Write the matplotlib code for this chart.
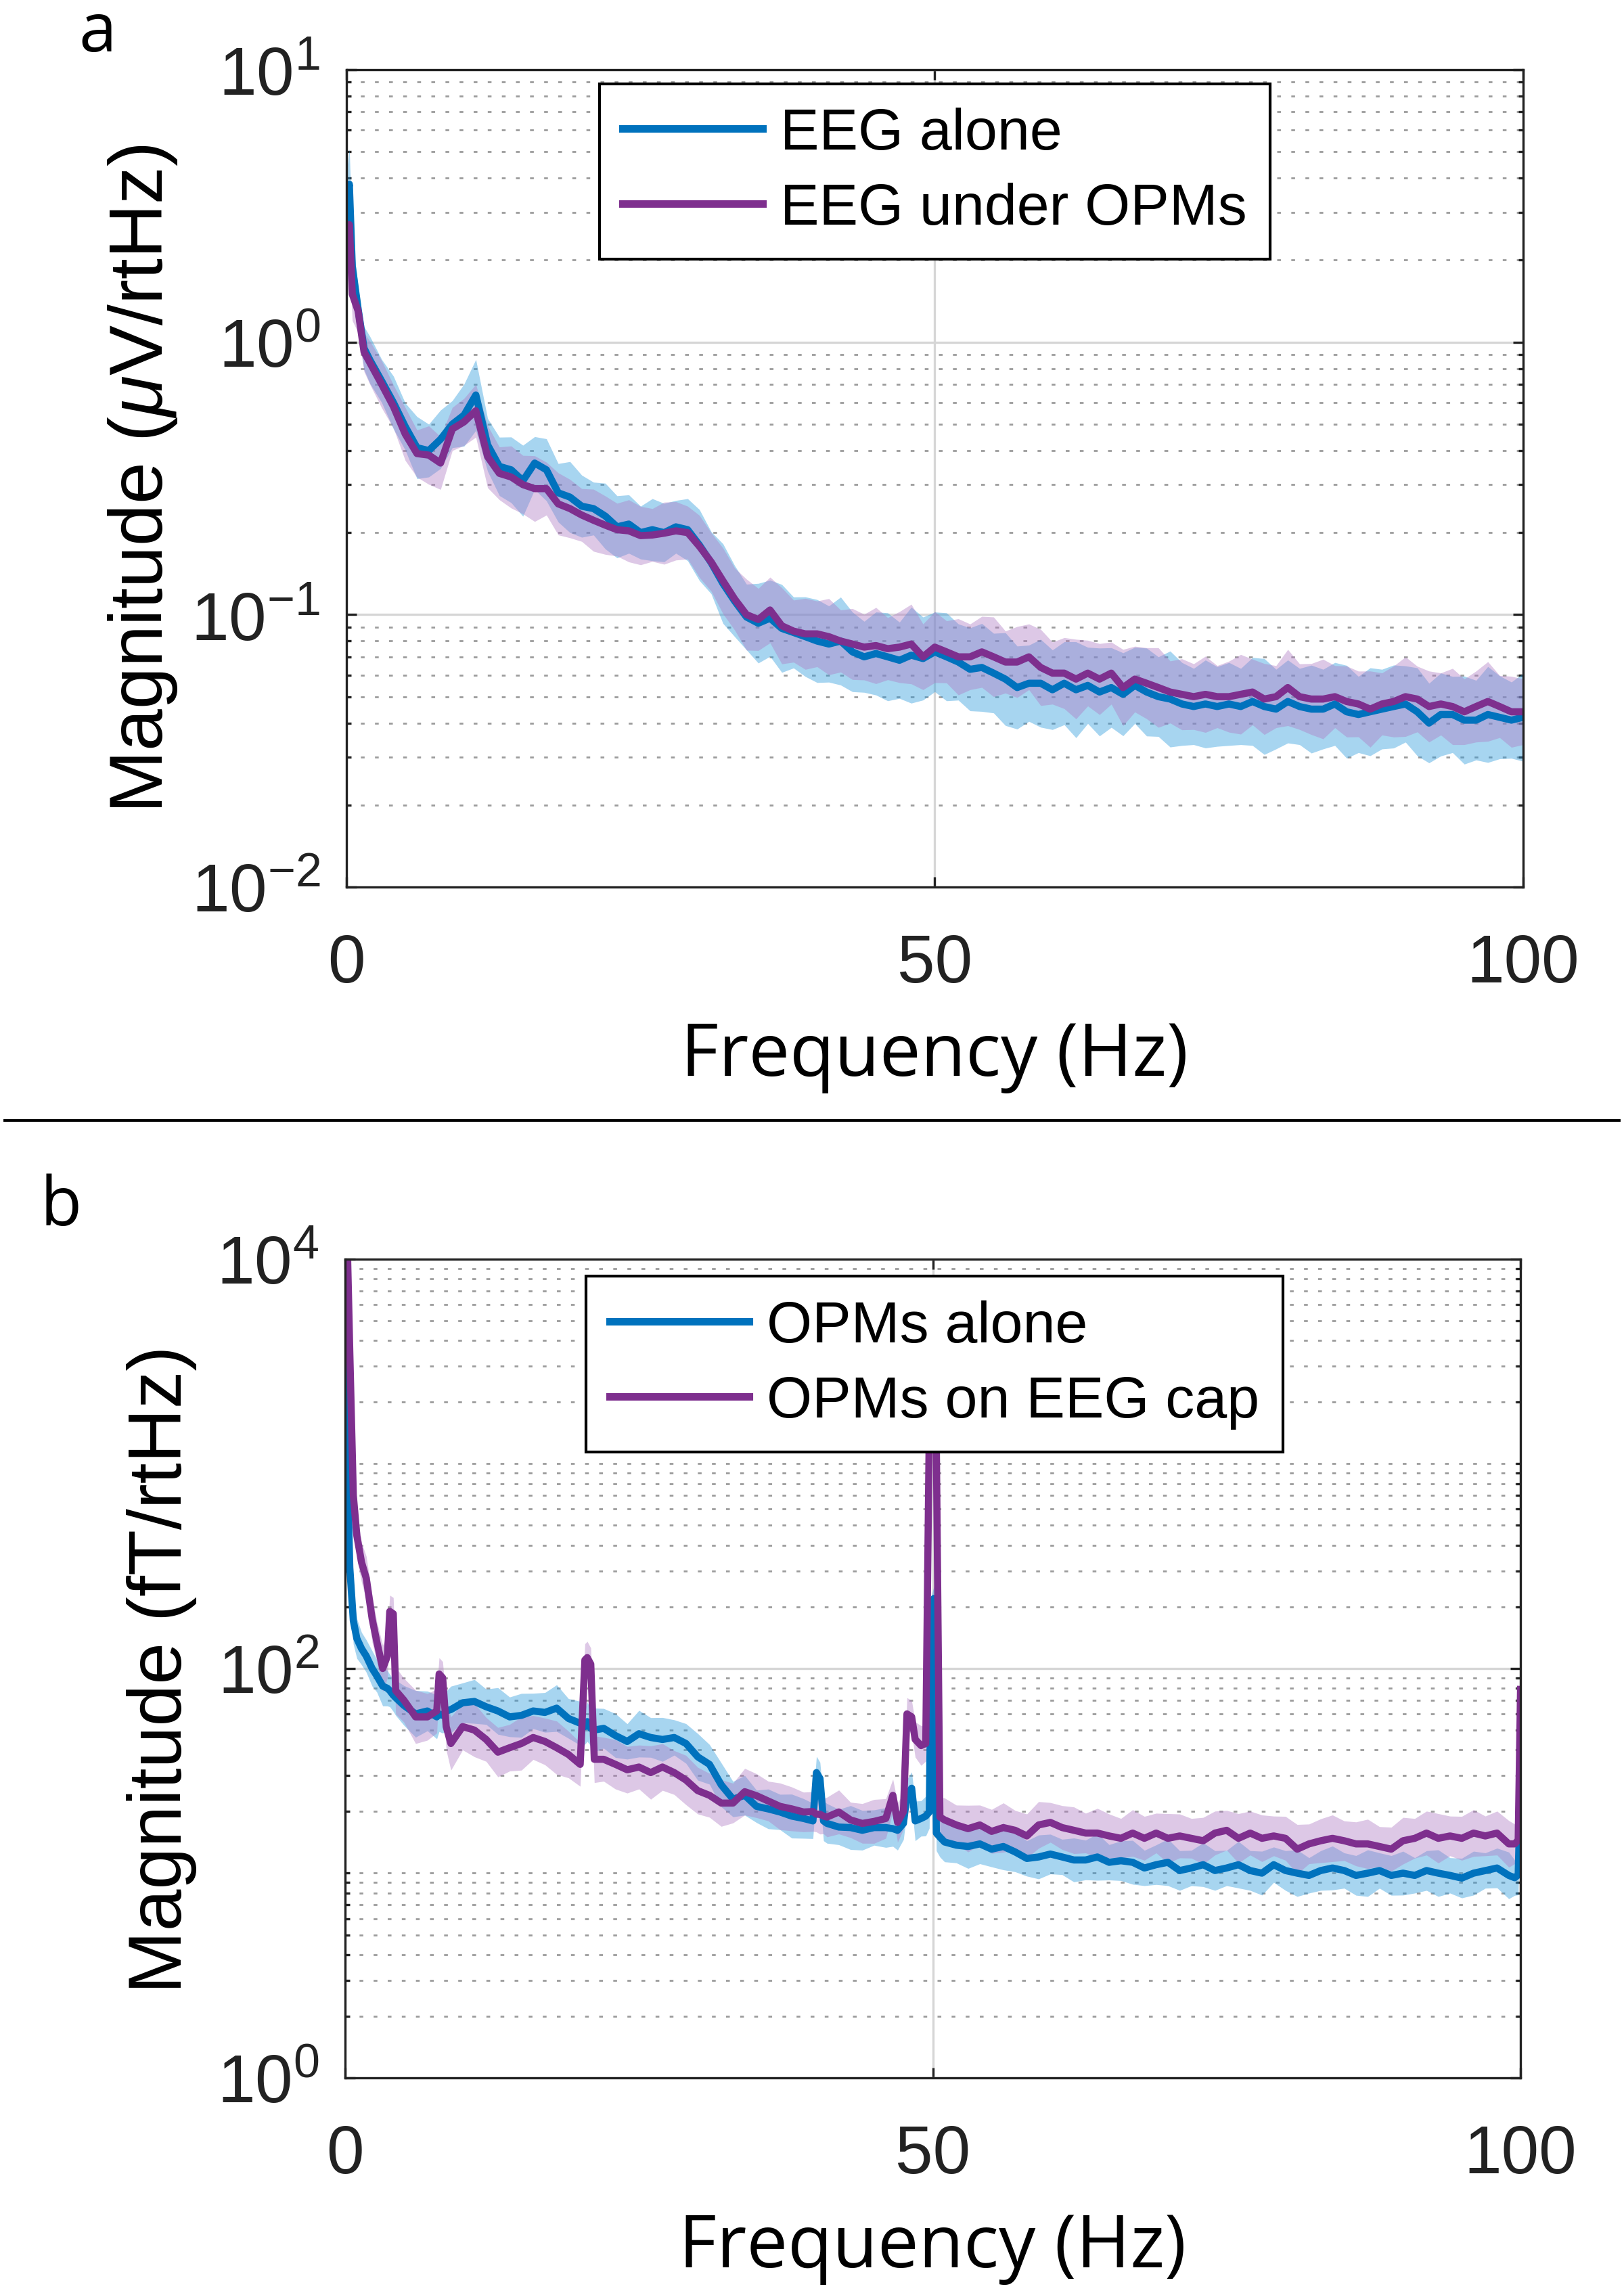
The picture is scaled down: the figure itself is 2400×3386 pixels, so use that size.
import matplotlib
matplotlib.use('Agg')
import numpy as np
import matplotlib.pyplot as plt
from matplotlib.ticker import FixedLocator, FuncFormatter, NullLocator, NullFormatter
from matplotlib.lines import Line2D

plt.rcParams['font.family'] = ['Liberation Sans', 'DejaVu Sans']
plt.rcParams['mathtext.fontset'] = 'custom'
plt.rcParams['mathtext.rm'] = 'Liberation Sans'
plt.rcParams['mathtext.it'] = 'Liberation Sans:italic'
plt.rcParams['mathtext.default'] = 'regular'

# ---------------- panel a : EEG spectra (uV/rtHz) ----------------
freq_a = [0, 0.25, 0.5, 1, 1.5, 2] + list(range(3, 101))

eeg_alone = [3.2, 3.8, 1.9, 1.32, 0.95, 0.86,
             0.72, 0.60, 0.49, 0.41, 0.40, 0.44, 0.50, 0.54, 0.64, 0.42,
             0.35, 0.34, 0.31, 0.36, 0.34, 0.28, 0.27, 0.25, 0.245, 0.23,
             0.21, 0.215, 0.20, 0.205, 0.20, 0.21, 0.205, 0.18, 0.155, 0.13,
             0.112, 0.098, 0.093, 0.097, 0.089, 0.086, 0.083, 0.080, 0.078, 0.080,
             0.073, 0.070, 0.072, 0.070, 0.068, 0.071, 0.069, 0.073, 0.070, 0.067,
             0.063, 0.064, 0.061, 0.058, 0.054, 0.056, 0.056, 0.053, 0.056, 0.053,
             0.055, 0.052, 0.054, 0.051, 0.055, 0.052, 0.050, 0.049, 0.047, 0.046,
             0.047, 0.046, 0.047, 0.046, 0.048, 0.046, 0.045, 0.048, 0.046, 0.045,
             0.045, 0.047, 0.044, 0.043, 0.044, 0.045, 0.046, 0.047, 0.044, 0.040,
             0.043, 0.043, 0.041, 0.041, 0.043, 0.042, 0.041, 0.042]

eeg_under = [2.4, 2.7, 1.5, 1.3, 0.92, 0.84,
             0.70, 0.58, 0.46, 0.39, 0.385, 0.36, 0.48, 0.51, 0.56, 0.38,
             0.33, 0.32, 0.30, 0.29, 0.29, 0.255, 0.245, 0.232, 0.222, 0.213,
             0.205, 0.203, 0.195, 0.196, 0.199, 0.203, 0.20, 0.178, 0.156, 0.133,
             0.114, 0.100, 0.096, 0.104, 0.091, 0.087, 0.085, 0.085, 0.083, 0.080,
             0.078, 0.076, 0.077, 0.075, 0.076, 0.078, 0.070, 0.076, 0.073, 0.070,
             0.070, 0.073, 0.070, 0.067, 0.067, 0.070, 0.064, 0.061, 0.061, 0.058,
             0.061, 0.058, 0.061, 0.054, 0.058, 0.056, 0.054, 0.052, 0.051, 0.050,
             0.051, 0.050, 0.050, 0.051, 0.052, 0.049, 0.050, 0.054, 0.050, 0.049,
             0.049, 0.050, 0.048, 0.047, 0.045, 0.047, 0.048, 0.050, 0.049, 0.046,
             0.047, 0.046, 0.044, 0.046, 0.048, 0.046, 0.044, 0.044]

# spread of the shaded band (multiplicative, mean*f .. mean/f)
eeg_alone_spread = [1.3, 1.35, 1.3, 1.2, 1.2, 1.22,
                    1.2, 1.25, 1.22, 1.3, 1.25, 1.28, 1.22, 1.3, 1.35, 1.25,
                    1.28, 1.32, 1.35, 1.25, 1.3, 1.28, 1.35, 1.3, 1.25, 1.32,
                    1.3, 1.28, 1.25, 1.3, 1.28, 1.25, 1.3, 1.35, 1.3, 1.4,
                    1.35, 1.32, 1.4, 1.38, 1.45, 1.35, 1.4, 1.42, 1.38, 1.45,
                    1.4, 1.35, 1.42, 1.45, 1.38, 1.5, 1.42, 1.4, 1.45, 1.38,
                    1.42, 1.45, 1.4, 1.48, 1.42, 1.38, 1.45, 1.4, 1.42, 1.5,
                    1.38, 1.45, 1.4, 1.42, 1.38, 1.45, 1.4, 1.5, 1.42, 1.38,
                    1.45, 1.4, 1.42, 1.38, 1.45, 1.5, 1.4, 1.42, 1.38, 1.45,
                    1.4, 1.42, 1.48, 1.38, 1.45, 1.4, 1.42, 1.38, 1.45, 1.4,
                    1.42, 1.38, 1.45, 1.4, 1.5, 1.42, 1.38, 1.45]

eeg_under_spread = [1.25, 1.3, 1.25, 1.2, 1.18, 1.2,
                    1.22, 1.2, 1.25, 1.22, 1.28, 1.25, 1.2, 1.22, 1.25, 1.3,
                    1.25, 1.3, 1.28, 1.32, 1.25, 1.3, 1.28, 1.25, 1.3, 1.28,
                    1.25, 1.3, 1.28, 1.25, 1.3, 1.28, 1.25, 1.3, 1.28, 1.32,
                    1.3, 1.35, 1.3, 1.32, 1.38, 1.3, 1.35, 1.32, 1.38, 1.3,
                    1.35, 1.32, 1.38, 1.3, 1.35, 1.4, 1.32, 1.35, 1.3, 1.38,
                    1.32, 1.35, 1.4, 1.3, 1.35, 1.32, 1.38, 1.3, 1.35, 1.4,
                    1.32, 1.35, 1.3, 1.38, 1.32, 1.35, 1.4, 1.3, 1.35, 1.32,
                    1.38, 1.3, 1.35, 1.4, 1.32, 1.35, 1.3, 1.38, 1.32, 1.35,
                    1.4, 1.3, 1.35, 1.32, 1.38, 1.3, 1.35, 1.4, 1.32, 1.35,
                    1.3, 1.38, 1.32, 1.35, 1.4, 1.3, 1.35, 1.32]

# ---------------- panel b : OPM spectra (fT/rtHz) ----------------
freq_b = ([0, 0.2, 0.4, 0.7, 1, 1.4, 1.8, 2.3, 2.7, 3.2, 3.6, 3.8, 4.1, 4.3, 5, 6, 7, 7.8, 8.0, 8.3, 8.6, 9]
          + list(range(10, 21)) + [20.4, 20.6, 20.9, 21.2] + list(range(22, 40))
          + [39.8, 40.1, 40.4, 40.7] + list(range(41, 47))
          + [46.6, 47, 47.5, 47.8, 48.2, 48.5, 49, 49.4, 49.7, 49.9, 50.1, 50.3, 50.6]
          + list(range(51, 100)) + [99.5, 99.8, 100])

opm_alone = ([4500, 900, 311, 171, 140, 125, 115, 100, 92, 82, 80, 78, 74, 72, 66, 60, 62, 58, 60, 59, 62, 63]
             + [68, 69, 65, 62, 58, 59, 62, 61, 64, 57, 54]
             + [52, 55, 51, 50]
             + [51, 47, 44, 48, 46, 45, 46, 43, 37, 34, 27, 23, 24, 21.2, 20.6, 19.9, 19.0, 18.5]
             + [18.0, 31, 29, 18]
             + [17.5, 16.8, 16.7, 16.2, 16.7, 16.7]
             + [16.5, 16.2, 17.5, 24, 26, 18, 18.5, 19, 19.9, 200, 220, 15.7, 15.0]
             + [14.2, 13.7, 13.5, 13.9, 13.1, 13.5, 12.7, 11.8, 12.0, 12.4,
                12.0, 11.6, 11.6, 12.0, 11.3, 11.5, 11.3, 10.6, 11.0, 11.3,
                10.3, 10.6, 11.0, 10.3, 10.6, 11.0, 10.3, 10.0, 11.0, 10.3,
                10.0, 9.75, 10.3, 10.6, 10.3, 9.75, 10.0, 10.3, 9.75, 10.0,
                9.75, 10.3, 10.0, 9.75, 9.46, 10.0, 10.3, 10.6, 9.75]
             + [9.5, 9.8, 28])

opm_on_cap = ([12000, 11000, 3500, 700, 445, 330, 276, 175, 135, 100, 115, 190, 185, 78, 70, 58, 58, 62, 94, 90, 52, 43]
              + [52, 50, 45, 39, 41, 43, 46, 44, 41, 38, 34]
              + [110, 113, 105, 36]
              + [36, 34, 32, 33, 31, 33, 31, 28.5, 25.3, 24, 22, 22, 25, 23.9, 22.5, 21.2, 20.6, 19.9]
              + [20, 19.4, 19.4, 19]
              + [18.8, 19.9, 18.2, 17.5, 17.9, 18.5]
              + [24, 17.7, 20, 60, 58, 45, 42, 43, 1500, 2500, 2500, 1200, 18.8]
              + [18.2, 17.2, 16.5, 17.2, 16.0, 16.7, 16.2, 15.2, 17.2, 17.7,
                 16.7, 16.2, 15.7, 15.7, 15.2, 14.8, 15.7, 14.8, 15.7, 14.8,
                 15.2, 14.8, 14.4, 15.7, 16.2, 14.8, 15.7, 14.8, 15.2, 14.8,
                 13.1, 13.9, 14.4, 14.8, 14.4, 13.9, 13.9, 13.5, 13.1, 14.4,
                 14.8, 15.7, 14.8, 15.2, 14.8, 15.7, 15.2, 15.7, 13.9]
              + [13.9, 14.5, 79])

opm_alone_spread = ([1.3, 1.4, 1.35, 1.3, 1.25, 1.2, 1.2, 1.22, 1.2, 1.25, 1.22, 1.2, 1.2, 1.22, 1.25, 1.3, 1.25, 1.28, 1.22, 1.22, 1.25, 1.3]
                    + [1.25, 1.28, 1.22, 1.3, 1.25, 1.28, 1.22, 1.25, 1.3, 1.25, 1.28]
                    + [1.22, 1.25, 1.22, 1.28]
                    + [1.25, 1.28, 1.22, 1.3, 1.25, 1.28, 1.22, 1.25, 1.3, 1.25, 1.28, 1.22, 1.25, 1.2, 1.25, 1.22, 1.28, 1.25]
                    + [1.22, 1.2, 1.2, 1.25]
                    + [1.25, 1.22, 1.28, 1.25, 1.22, 1.25]
                    + [1.22, 1.25, 1.2, 1.2, 1.2, 1.25, 1.22, 1.25, 1.2, 1.15, 1.15, 1.22, 1.25]
                    + [1.25, 1.22, 1.28, 1.25, 1.22, 1.3, 1.25, 1.22, 1.28, 1.25,
                       1.22, 1.28, 1.25, 1.3, 1.22, 1.25, 1.28, 1.22, 1.25, 1.3,
                       1.25, 1.22, 1.28, 1.25, 1.22, 1.3, 1.25, 1.28, 1.22, 1.25,
                       1.3, 1.22, 1.25, 1.28, 1.22, 1.25, 1.3, 1.22, 1.25, 1.28,
                       1.22, 1.25, 1.3, 1.22, 1.25, 1.28, 1.22, 1.25, 1.3]
                    + [1.22, 1.25, 1.2])

opm_on_cap_spread = ([1.2, 1.2, 1.25, 1.3, 1.3, 1.25, 1.28, 1.3, 1.25, 1.3, 1.28, 1.2, 1.2, 1.3, 1.28, 1.35, 1.3, 1.28, 1.2, 1.2, 1.3, 1.35]
                     + [1.3, 1.35, 1.28, 1.32, 1.3, 1.35, 1.28, 1.3, 1.35, 1.3, 1.28]
                     + [1.2, 1.2, 1.2, 1.3]
                     + [1.28, 1.32, 1.3, 1.28, 1.35, 1.3, 1.28, 1.32, 1.3, 1.28, 1.3, 1.25, 1.3, 1.28, 1.25, 1.3, 1.28, 1.25]
                     + [1.25, 1.22, 1.25, 1.22]
                     + [1.25, 1.28, 1.22, 1.25, 1.28, 1.25]
                     + [1.2, 1.25, 1.22, 1.2, 1.2, 1.22, 1.25, 1.22, 1.2, 1.15, 1.15, 1.2, 1.25]
                     + [1.28, 1.25, 1.3, 1.25, 1.28, 1.32, 1.25, 1.28, 1.3, 1.25,
                        1.28, 1.3, 1.25, 1.32, 1.28, 1.25, 1.3, 1.28, 1.25, 1.32,
                        1.28, 1.25, 1.3, 1.28, 1.25, 1.32, 1.28, 1.3, 1.25, 1.28,
                        1.32, 1.25, 1.28, 1.3, 1.25, 1.28, 1.32, 1.25, 1.28, 1.3,
                        1.25, 1.28, 1.32, 1.25, 1.28, 1.3, 1.25, 1.28, 1.3]
                     + [1.25, 1.2, 1.2])

labels_a = ['EEG alone', 'EEG under OPMs']
labels_b = ['OPMs alone', 'OPMs on EEG cap']

BLUE, PURPLE = '#0072BD', '#7E2F8E'
BLUE_FILL, PURPLE_FILL = '#2E9BDD', '#B07CC4'


def draw_panel(ax, freq, means, spreads, labels, ylim, major, minor, ylabel, lab_x, leg_x, leg_y):
    freq = np.array(freq)
    for m, s, c in zip(means, spreads, [BLUE_FILL, PURPLE_FILL]):
        m = np.array(m)
        s = np.array(s)
        ax.fill_between(freq, m / s, m * s, color=c, alpha=0.42, lw=0)
    for m, lab, c in zip(means, labels, [BLUE, PURPLE]):
        ax.plot(freq, m, color=c, lw=3.8, label=lab)

    ax.set_yscale('log')
    ax.set_xlim(0, 100)
    ax.set_ylim(*ylim)
    ax.set_xticks([0, 50, 100])
    ax.xaxis.set_minor_locator(NullLocator())
    ax.yaxis.set_major_locator(FixedLocator(major))
    ax.yaxis.set_minor_locator(FixedLocator(minor))
    ax.yaxis.set_major_formatter(FuncFormatter(lambda v, p: r'$10^{%d}$' % round(np.log10(v))))
    ax.yaxis.set_minor_formatter(NullFormatter())

    ax.set_axisbelow(True)
    ax.grid(which='major', color='#d6d6d6', lw=1.2, ls='-')
    ax.grid(which='minor', axis='y', color='#9c9c9c', lw=1.0, ls=(0, (2, 5.5)))

    ax.tick_params(which='both', direction='in', top=True, right=True, width=1.2, colors='#222222')
    ax.tick_params(which='major', length=5.5, labelsize=36)
    ax.tick_params(which='minor', length=2.5)
    ax.tick_params(axis='x', pad=24)
    ax.tick_params(axis='y', pad=14)
    for sp in ax.spines.values():
        sp.set_linewidth(1.2)
        sp.set_color('#222222')

    ax.set_xlabel('Frequency (Hz)', fontsize=39, family=['Open Sans', 'DejaVu Sans'])
    ax.xaxis.set_label_coords(0.5, -0.162)
    ax.set_ylabel(ylabel, fontsize=40)
    ax.yaxis.set_label_coords(lab_x, 0.5)

    leg = ax.legend(loc='upper left', bbox_to_anchor=(leg_x, leg_y), fontsize=31,
                    frameon=True, fancybox=False, framealpha=1, edgecolor='black',
                    borderpad=0.4, labelspacing=0.36, handlelength=2.4,
                    handletextpad=0.3, borderaxespad=0)
    leg.get_frame().set_linewidth(1.5)
    for ln in leg.get_lines():
        ln.set_linewidth(4.0)


fig = plt.figure(figsize=(12, 16.935), dpi=200)

ax_a = fig.add_axes([0.2133, 0.6126, 0.7246, 0.3567])
minor_a = [m * 10.0 ** k for k in range(-2, 1) for m in range(2, 10)]
draw_panel(ax_a, freq_a, [eeg_alone, eeg_under], [eeg_alone_spread, eeg_under_spread], labels_a,
           (1e-2, 1e1), [1e-2, 1e-1, 1e0, 1e1], minor_a,
           r'Magnitude ($\mathit{\mu}$V/rtHz)', -0.142, 0.215, 0.983)

ax_b = fig.add_axes([0.2125, 0.0930, 0.7238, 0.3573])
minor_b = [m * 10.0 ** k for k in range(0, 4) for m in range(2, 10)] + [10, 1000]
draw_panel(ax_b, freq_b, [opm_alone, opm_on_cap], [opm_alone_spread, opm_on_cap_spread], labels_b,
           (1e0, 1e4), [1e0, 1e2, 1e4], minor_b,
           'Magnitude (fT/rtHz)', -0.126, 0.205, 0.979)

# panel letters and separator
fig.text(144 / 2400, 1 - 76 / 3387, 'a', fontsize=36, ha='center', va='baseline',
         family=['Open Sans', 'DejaVu Sans'])
fig.text(90 / 2400, 1 - 1811 / 3387, 'b', fontsize=36, ha='center', va='baseline',
         family=['Open Sans', 'DejaVu Sans'])
fig.add_artist(Line2D([0.003, 0.997], [0.5108, 0.5108], color='black', lw=1.4))

fig.savefig('out.png', dpi=200)
